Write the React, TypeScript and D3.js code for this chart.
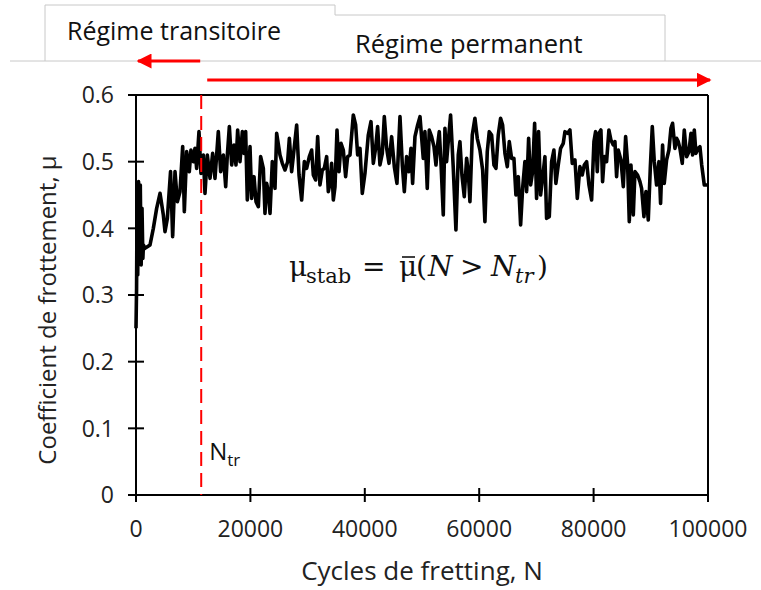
import React from "react";
import * as d3 from "d3";

// ---- data (cycles in units of 1000 cycles, friction coefficient) ----
const cyclesK: number[] = [
  0, 0.1, 0.2, 0.3, 0.45, 0.6, 0.75, 0.9, 1.05, 1.2, 1.3, 1.57, 2.45, 3.03, 3.61, 4.2, 4.78, 5.07, 5.48, 6.04,
  6.41, 6.82, 7.23, 7.69, 8.16, 8.45, 8.86, 9.32, 9.61, 10.02, 10.31, 10.6, 11.01, 11.36, 11.77, 12.06, 12.47, 12.94, 13.4, 13.81,
  14.39, 14.8, 15.27, 15.68, 15.97, 16.32, 16.73, 17.13, 17.48, 17.77, 18.18, 18.59, 18.88, 19.17, 19.46, 19.93, 20.22, 20.63, 20.98, 21.39,
  21.79, 22.26, 22.55, 22.84, 23.13, 23.43, 23.83, 24.3, 24.59, 25.17, 25.58, 26.05, 26.51, 26.81, 27.21, 27.62, 28.09, 28.5, 28.96, 29.43,
  29.83, 30.3, 30.71, 31.0, 31.41, 31.76, 32.16, 32.57, 32.92, 33.33, 33.62, 33.91, 34.2, 34.5, 34.79, 35.14, 35.49, 35.84, 36.24, 36.65,
  37.0, 37.41, 37.99, 38.4, 38.75, 39.16, 39.56, 40.03, 40.61, 41.08, 41.49, 41.89, 42.24, 42.65, 43.06, 43.41, 43.82, 44.23, 44.69, 45.16,
  45.62, 46.15, 46.56, 46.91, 47.31, 47.72, 48.07, 48.36, 48.77, 49.24, 49.65, 50.22, 50.51, 50.92, 51.27, 51.68, 52.09, 52.44, 52.73, 53.02,
  53.31, 53.72, 54.01, 54.3, 54.59, 55.0, 55.47, 55.93, 56.34, 56.63, 56.98, 57.39, 57.8, 58.09, 58.38, 58.79, 59.25, 59.66, 60.13, 60.6,
  61.0, 61.41, 61.76, 62.17, 62.58, 62.93, 63.33, 63.74, 64.09, 64.5, 64.91, 65.26, 65.66, 66.07, 66.42, 66.83, 67.24, 67.59, 67.99, 68.29,
  68.64, 68.99, 69.34, 69.69, 70.03, 70.38, 70.73, 71.08, 71.49, 71.78, 72.25, 72.66, 73.06, 73.41, 73.82, 74.23, 74.7, 74.99, 75.46, 75.86,
  76.27, 76.74, 77.15, 77.61, 78.02, 78.37, 78.78, 79.19, 79.65, 80.06, 80.35, 80.64, 80.93, 81.28, 81.57, 81.87, 82.27, 82.68, 83.03, 83.44,
  83.73, 84.02, 84.31, 84.78, 85.19, 85.6, 85.94, 86.24, 86.53, 86.94, 87.23, 87.69, 88.1, 88.39, 88.8, 89.15, 89.56, 89.91, 90.26, 90.61,
  91.01, 91.42, 91.71, 92.06, 92.35, 92.76, 93.17, 93.52, 93.81, 94.22, 94.51, 94.8, 95.09, 95.5, 95.85, 96.26, 96.67, 97.02, 97.31, 97.6,
  97.89, 98.3, 98.59, 98.9, 99.35, 100,
];

const mu: number[] = [
  0.25, 0.31, 0.46, 0.33, 0.47, 0.36, 0.465, 0.345, 0.43, 0.355, 0.375, 0.37, 0.375, 0.4, 0.43, 0.4525, 0.42, 0.395, 0.415, 0.485,
  0.3875, 0.485, 0.44, 0.455, 0.5225, 0.425, 0.515, 0.485, 0.5175, 0.5, 0.52, 0.49, 0.545, 0.4825, 0.51, 0.4525, 0.51, 0.475, 0.5125, 0.475,
  0.545, 0.485, 0.51, 0.4625, 0.51, 0.5525, 0.495, 0.525, 0.495, 0.5475, 0.5, 0.545, 0.5125, 0.545, 0.4425, 0.5225, 0.445, 0.4775, 0.44, 0.4325,
  0.5075, 0.49, 0.4225, 0.4675, 0.455, 0.4225, 0.5, 0.46, 0.5425, 0.51, 0.4975, 0.4875, 0.5, 0.535, 0.485, 0.5175, 0.555, 0.48, 0.4425, 0.5,
  0.49, 0.5075, 0.5175, 0.48, 0.4725, 0.5375, 0.465, 0.4875, 0.49, 0.5075, 0.455, 0.4675, 0.4975, 0.4425, 0.4625, 0.5475, 0.485, 0.5275, 0.5175, 0.4775,
  0.5075, 0.51, 0.57, 0.555, 0.51, 0.52, 0.4525, 0.4825, 0.54, 0.56, 0.4975, 0.52, 0.5525, 0.495, 0.5125, 0.5675, 0.52, 0.4975, 0.5375, 0.4925,
  0.4675, 0.5675, 0.495, 0.455, 0.5075, 0.485, 0.52, 0.4675, 0.5375, 0.555, 0.5675, 0.505, 0.545, 0.46, 0.5475, 0.5375, 0.5225, 0.495, 0.525, 0.545,
  0.5, 0.42, 0.55, 0.5, 0.53, 0.57, 0.49, 0.3975, 0.51, 0.53, 0.48, 0.4475, 0.505, 0.485, 0.44, 0.54, 0.565, 0.535, 0.5175, 0.4875,
  0.41, 0.515, 0.545, 0.54, 0.495, 0.49, 0.54, 0.565, 0.555, 0.5125, 0.4925, 0.53, 0.505, 0.505, 0.45, 0.4775, 0.405, 0.46, 0.5, 0.455,
  0.535, 0.465, 0.485, 0.5575, 0.445, 0.545, 0.45, 0.475, 0.5075, 0.415, 0.4175, 0.5, 0.5175, 0.4675, 0.495, 0.52, 0.5275, 0.545, 0.5425, 0.5475,
  0.4975, 0.5025, 0.445, 0.4925, 0.48, 0.495, 0.5, 0.465, 0.4425, 0.53, 0.545, 0.485, 0.5425, 0.5475, 0.47, 0.5075, 0.5, 0.5475, 0.5325, 0.525,
  0.53, 0.4775, 0.5175, 0.5025, 0.4625, 0.5375, 0.4975, 0.41, 0.495, 0.42, 0.485, 0.48, 0.47, 0.46, 0.4175, 0.455, 0.4125, 0.49, 0.5525, 0.5,
  0.465, 0.5, 0.4375, 0.525, 0.4675, 0.5025, 0.5175, 0.55, 0.5575, 0.52, 0.535, 0.53, 0.52, 0.4975, 0.5475, 0.5075, 0.515, 0.5425, 0.51, 0.5475,
  0.5125, 0.52, 0.5225, 0.495, 0.465, 0.465,
];

const xTicks: number[] = [0, 20000, 40000, 60000, 80000, 100000];
const yTicks: number[] = [0, 0.1, 0.2, 0.3, 0.4, 0.5, 0.6];
const yTickLabels: string[] = ["0", "0.1", "0.2", "0.3", "0.4", "0.5", "0.6"];
const nTransition = 11400;

const xTitle = "Cycles de fretting, N";
const yTitle = "Coefficient de frottement, μ";
const labelTransient = "Régime transitoire";
const labelSteady = "Régime permanent";

export default function App() {
  const W = 761;
  const H = 590;
  const left = 136, right = 708, top = 95, bottom = 495;
  const x = d3.scaleLinear().domain([0, 100000]).range([left, right]);
  const y = d3.scaleLinear().domain([0, 0.6]).range([bottom, top]);

  const pts = cyclesK.map((c, i) => [c * 1000, mu[i]] as [number, number]);
  const line = d3
    .line<[number, number]>()
    .x((d) => x(d[0]))
    .y((d) => y(d[1]));

  const sans = "'Open Sans', 'Noto Sans', sans-serif";
  const serif = "'DejaVu Serif', 'Liberation Serif', serif";
  const tickFont = 23;
  const xtr = x(nTransition);

  return (
    <svg
      width={W}
      height={H}
      viewBox={`0 0 ${W} ${H}`}
      style={{ position: "absolute", left: 0, top: 0, background: "#fff" }}
    >
      {/* header boxes */}
      <line x1={10} x2={761} y1={61} y2={61} stroke="#c8c8c8" strokeWidth={1} />
      <path d="M45,61 L45,5 L335,5 L335,15" fill="none" stroke="#c8c8c8" strokeWidth={1} />
      <path d="M335,15 L665,15 L665,61" fill="none" stroke="#c8c8c8" strokeWidth={1} />
      <text x={67} y={40} fontFamily={sans} fontSize={25} fill="#111">{labelTransient}</text>
      <text x={355} y={53} fontFamily={sans} fontSize={25.5} fill="#111">{labelSteady}</text>

      {/* red arrows */}
      <defs>
        <marker id="ah" viewBox="0 0 10 10" refX="9" refY="5" markerWidth="5" markerHeight="5" orient="auto-start-reverse" markerUnits="strokeWidth">
          <path d="M0,0 L10,5 L0,10 z" fill="#ff0000" />
        </marker>
      </defs>
      <line x1={xtr - 1} x2={left + 2} y1={61} y2={61} stroke="#ff0000" strokeWidth={3} markerEnd="url(#ah)" />
      <line x1={xtr + 6} x2={right + 2} y1={80} y2={80} stroke="#ff0000" strokeWidth={3} markerEnd="url(#ah)" />

      {/* frame top and right */}
      <line x1={left - 8} x2={right} y1={top} y2={top} stroke="#000" strokeWidth={2} />
      <line x1={right} x2={right} y1={top} y2={bottom} stroke="#000" strokeWidth={2} />

      {/* y axis */}
      <line x1={left} x2={left} y1={top} y2={bottom} stroke="#000" strokeWidth={2} />
      {yTicks.map((t, i) => (
        <g key={"y" + i}>
          <line x1={left - 8} x2={left + 8} y1={y(t)} y2={y(t)} stroke="#000" strokeWidth={2} />
          <text x={left - 22} y={y(t)} dy="0.36em" textAnchor="end" fontFamily={sans} fontSize={tickFont} fill="#222">
            {yTickLabels[i]}
          </text>
        </g>
      ))}

      {/* x axis */}
      <line x1={left - 8} x2={right} y1={bottom} y2={bottom} stroke="#000" strokeWidth={2} />
      {xTicks.map((t, i) => (
        <g key={"x" + i}>
          <line x1={x(t)} x2={x(t)} y1={bottom - 7} y2={bottom + 7} stroke="#000" strokeWidth={2} />
          <text x={x(t)} y={537} textAnchor="middle" fontFamily={sans} fontSize={tickFont} fill="#222">
            {String(t)}
          </text>
        </g>
      ))}

      {/* data line */}
      <path d={line(pts) || ""} fill="none" stroke="#000" strokeWidth={3.6} strokeLinejoin="round" />

      {/* transition line */}
      <line x1={xtr} x2={xtr} y1={top} y2={bottom} stroke="#ff0000" strokeWidth={2} strokeDasharray="14,7" />
      <text x={xtr + 8} y={460} fontFamily={sans} fontSize={24} fill="#111">
        N<tspan fontSize={17} dy={6}>tr</tspan>
      </text>

      {/* formula */}
      <g fontFamily={serif} fill="#111">
        <text x={289} y={276} fontSize={28}>μ</text>
        <text x={306} y={283} fontSize={21}>stab</text>
        <text x={362} y={276} fontSize={28}>=</text>
        <text x={399} y={276} fontSize={28}>μ</text>
        <line x1={402} x2={415} y1={257} y2={257} stroke="#111" strokeWidth={1.6} />
        <text x={416} y={276} fontSize={28}>(</text>
        <text x={428} y={276} fontSize={28} fontStyle="italic">N</text>
        <text x={460} y={276} fontSize={28}>&gt;</text>
        <text x={491} y={276} fontSize={28} fontStyle="italic">N</text>
        <text x={515} y={283} fontSize={21} fontStyle="italic">tr</text>
        <text x={537} y={276} fontSize={28}>)</text>
      </g>

      {/* axis titles */}
      <text x={422} y={580} textAnchor="middle" fontFamily={sans} fontSize={26} fill="#222">{xTitle}</text>
      <text
        transform={`translate(56,310) rotate(-90)`}
        textAnchor="middle"
        fontFamily={sans}
        fontSize={24}
        fill="#222"
      >
        {yTitle}
      </text>
    </svg>
  );
}
